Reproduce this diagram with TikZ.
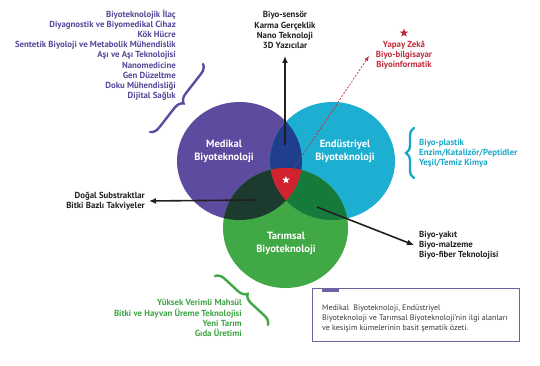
\documentclass[tikz,border=0pt]{standalone}
\usepackage{fontspec}
\setmainfont{PT Sans}
\usetikzlibrary{arrows.meta,decorations.pathreplacing,shapes.geometric}
\definecolor{med}{HTML}{5C4B9E}
\definecolor{ind}{HTML}{1CAFD1}
\definecolor{agr}{HTML}{40A845}
\definecolor{medind}{HTML}{1F3F8E}
\definecolor{medagr}{HTML}{1C3A2D}
\definecolor{indagr}{HTML}{167A3B}
\definecolor{core}{HTML}{D3222F}
\definecolor{txtpur}{HTML}{56479A}
\definecolor{txtcy}{HTML}{1AA8C8}
\definecolor{txtgr}{HTML}{3DA545}
\definecolor{txtred}{HTML}{C02C3A}
\definecolor{txtblk}{HTML}{231F20}
\definecolor{boxline}{HTML}{6A64A2}
\begin{document}
\begin{tikzpicture}[x=1pt,y=-1pt,
  list/.style={font=\fontsize{8.8}{10.2}\selectfont\bfseries, inner sep=0pt},
  circlabel/.style={font=\fontsize{10.5}{13}\selectfont\bfseries, text=white, align=center, inner sep=0pt},
  bigarrow/.style={line width=1.6pt, txtblk, -{Latex[length=7pt,width=6pt]}},
  bracestyle/.style={line width=2.4pt, line cap=round, decorate},
  starshape/.style={star, star points=5, star point ratio=2.4, inner sep=0pt, minimum size=#1}
]
\useasboundingbox (0,0) rectangle (540,366);
% circles
\fill[med] (239.5,161) ellipse [x radius=62.5pt, y radius=59pt];
\fill[ind] (332.5,161) ellipse [x radius=62.5pt, y radius=59pt];
\fill[agr] (285.5,228) ellipse [x radius=62.5pt, y radius=60pt];
\begin{scope}
  \clip (239.5,161) ellipse [x radius=62.5pt, y radius=59pt];
  \fill[medind] (332.5,161) ellipse [x radius=62.5pt, y radius=59pt];
  \fill[medagr] (285.5,228) ellipse [x radius=62.5pt, y radius=60pt];
\end{scope}
\begin{scope}
  \clip (332.5,161) ellipse [x radius=62.5pt, y radius=59pt];
  \fill[indagr] (285.5,228) ellipse [x radius=62.5pt, y radius=60pt];
  \clip (239.5,161) ellipse [x radius=62.5pt, y radius=59pt];
  \fill[core] (285.5,228) ellipse [x radius=62.5pt, y radius=60pt];
\end{scope}
% circle labels
\node[circlabel] (medlab) at (224,151) {Medikal\\Biyoteknoloji};
\node[circlabel] (indlab) at (345,151) {Endüstriyel\\Biyoteknoloji};
\node[circlabel] (agrlab) at (286,243) {Tarımsal\\Biyoteknoloji};
\node[starshape=8pt, fill=white] (corestar) at (286,180) {};
% purple list
\node[list, text=txtpur, align=right, anchor=east] (medlist) at (176,55)
  {Biyoteknolojik İlaç\\Diyagnostik ve Biyomedikal Cihaz\\Kök Hücre\\Sentetik Biyoloji ve Metabolik Mühendislik\\Aşı ve Aşı Teknolojisi\\Nanomedicine\\Gen Düzeltme\\Doku Mühendisliği\\Dijital Sağlık};
% top list
\node[list, text=txtblk, align=center] (toplist) at (285,30)
  {Biyo-sensör\\Karma Gerçeklik\\Nano Teknoloji\\3D Yazıcılar};
% red list
\node[starshape=9pt, fill=txtred] (redstar) at (404,33) {};
\node[list, text=txtred, align=center] (redlist) at (404,55)
  {Yapay Zekâ\\Biyo-bilgisayar\\Biyoinformatik};
% cyan list
\node[list, text=txtcy, align=left, anchor=west] (indlist) at (419,153)
  {Biyo-plastik\\Enzim/Katalizör/Peptidler\\Yeşil/Temiz Kimya};
% left list
\node[list, text=txtblk, align=right, anchor=east] (leftlist) at (145,201)
  {Doğal Substraktlar\\Bitki Bazlı Takviyeler};
% right list
\node[list, text=txtblk, align=left, anchor=west] (rightlist) at (419,245)
  {Biyo-yakıt\\Biyo-malzeme\\Biyo-fiber Teknolojisi};
% green list
\node[list, text=txtgr, align=right, anchor=east] (agrlist) at (242,318)
  {Yüksek Verimli Mahsül\\Bitki ve Hayvan Üreme Teknolojisi\\Yeni Tarım\\Gıda Üretimi};
% arrows
\coordinate (s1) at (285,145);
\coordinate (t1) at (285,56);
\draw[bigarrow] (s1) -- (t1);
\coordinate (s2) at (255,200);
\coordinate (t2) at (149,201);
\draw[bigarrow] (s2) -- (t2);
\coordinate (s3) at (317,207);
\coordinate (t3) at (414,245);
\draw[bigarrow] (s3) -- (t3);
\coordinate (t4) at (369,56);
\draw[txtred, line width=0.7pt, dash pattern=on 2pt off 1.5pt, -{Latex[length=5pt,width=4pt]}] (corestar) -- (t4);
% braces
\draw[med, bracestyle, decoration={brace, amplitude=9pt}] (203,64) -- (150,132);
\draw[txtcy, bracestyle, decoration={brace, amplitude=8pt}] (414,178) -- (414,128);
\draw[agr, bracestyle, decoration={brace, amplitude=9pt}] (215,276) -- (268,325);
% caption box
\node[draw=boxline, line width=0.9pt, minimum width=207pt, minimum height=53pt, anchor=north west, inner sep=0pt] (capbox) at (312,288) {};
\fill[boxline] (322,288) rectangle (339,292);
\node[font=\fontsize{8.0}{10}\selectfont, text=black!78, align=left, anchor=west, inner sep=0pt] (captext) at (322,318)
  {Medikal\ \ Biyoteknoloji, Endüstriyel\\Biyoteknoloji ve Tarımsal Biyoteknoloji'nin ilgi alanları\\ve kesişim kümelerinin basit şematik özeti.};
\end{tikzpicture}
\end{document}
